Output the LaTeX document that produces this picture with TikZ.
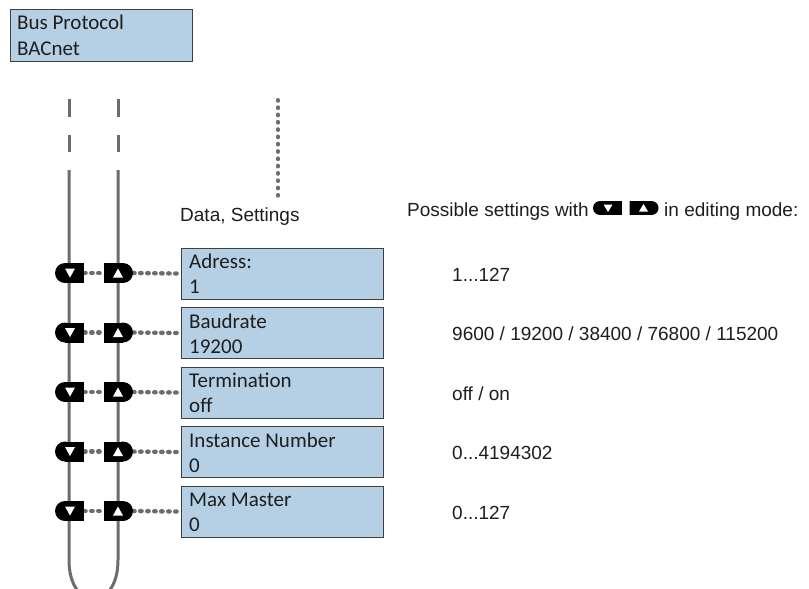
\documentclass[tikz,border=0pt]{standalone}
\usepackage{fontspec}
\setmainfont{Liberation Sans}
\newfontfamily\calfont{Carlito}
\usetikzlibrary{backgrounds}
\definecolor{linegray}{RGB}{108,108,108}
\definecolor{boxfill}{RGB}{181,207,228}
\definecolor{boxborder}{RGB}{64,64,64}
\definecolor{txt}{RGB}{30,30,30}
\begin{document}
\begin{tikzpicture}[x=1pt,y=-1pt,
  vline/.style={draw=linegray,line width=3pt},
  dotline/.style={draw=linegray,line width=4.4pt,line cap=round,dash pattern=on 1.4pt off 5.6pt},
  setbox/.style={draw=boxborder,line width=1.2pt,fill=boxfill,minimum width=202pt,minimum height=51pt,inner sep=0pt,anchor=north west},
  btxt/.style={anchor=base west,inner sep=0pt,text=txt,font=\calfont\fontsize{21}{25}\selectfont},
  atxt/.style={anchor=base west,inner sep=0pt,text=txt,font=\fontsize{19}{23}\selectfont},
  btnbase/.style={rectangle,inner sep=0pt,minimum width=29pt},
  dnbtn/.style={btnbase,minimum height=20pt,
    path picture={\begin{scope}[x=1pt,y=-1pt,shift={(path picture bounding box.center)}]
      \fill[black] (-4.5,0) circle[radius=10pt];
      \fill[black] (-4.5,-10) rectangle (14.6,10);
      \fill[white] (-4.5,-4.5) -- (5.5,-4.5) -- (0.5,4.5) -- cycle;
    \end{scope}}},
  upbtn/.style={btnbase,minimum height=20pt,
    path picture={\begin{scope}[x=1pt,y=-1pt,shift={(path picture bounding box.center)}]
      \fill[black] (4.5,0) circle[radius=10pt];
      \fill[black] (-14.6,-10) rectangle (4.5,10);
      \fill[white] (-5.5,4.5) -- (4.5,4.5) -- (-0.5,-4.5) -- cycle;
    \end{scope}}},
  dnicon/.style={btnbase,minimum height=14pt,
    path picture={\begin{scope}[x=1pt,y=-1pt,shift={(path picture bounding box.center)}]
      \fill[black] (-7.5,0) circle[radius=7pt];
      \fill[black] (-7.5,-7) rectangle (14.6,7);
      \fill[white] (-4,-3.5) -- (5,-3.5) -- (0.5,4) -- cycle;
    \end{scope}}},
  upicon/.style={btnbase,minimum height=14pt,
    path picture={\begin{scope}[x=1pt,y=-1pt,shift={(path picture bounding box.center)}]
      \fill[black] (7.5,0) circle[radius=7pt];
      \fill[black] (-14.6,-7) rectangle (7.5,7);
      \fill[white] (-5,3.5) -- (4,3.5) -- (-0.5,-4) -- cycle;
    \end{scope}}}
]
\useasboundingbox (0,0) rectangle (809,589);
\begin{scope}
\clip (0,0) rectangle (809,589);

% top box
\node[setbox,minimum width=182pt,minimum height=52pt] (top) at (10,9) {};
\node[btxt] (toptxt1) at (17,30) {Bus Protocol};
\node[btxt] (toptxt2) at (17,55) {BACnet};

% heading texts
\node[atxt] (data) at (180,221) {Data, Settings};
\node[atxt] (poss) at (407,216) {Possible settings with};
\node[dnicon] (idn) at (607.5,208) {};
\node[upicon] (iup) at (644,208) {};
\node[atxt] (mode) at (664,216) {in editing mode:};

% rows
\newcommand\myrow[5]{%
  \node[dnbtn] (d#1) at (69.5,#2) {};
  \node[upbtn] (u#1) at (118.5,#2) {};
  \node[setbox] (b#1) at (181,#2-25.5) {};
  \node[btxt] (bl#1) at (189,#2-4.5) {#3};
  \node[btxt] (bv#1) at (189,#2+20.5) {#4};
  \node[atxt] (r#1) at (452,#2+8) {#5};
  \begin{scope}[on background layer]
    \draw[dotline] (d#1.east) -- (u#1.west);
    \draw[dotline] (u#1.east) -- (b#1.west);
  \end{scope}
}
\myrow{1}{273}{Adress:}{1}{1...127}
\myrow{2}{332.5}{Baudrate}{19200}{9600 / 19200 / 38400 / 76800 / 115200}
\myrow{3}{392}{Termination}{off}{off / on}
\myrow{4}{451.5}{Instance Number}{0}{0...4194302}
\myrow{5}{511}{Max Master}{0}{0...127}

\begin{scope}[on background layer]
  \draw[vline] (69,99) -- (69,117);
  \draw[vline] (69,135) -- (69,152);
  \draw[vline] (118,99) -- (118,117);
  \draw[vline] (118,135) -- (118,152);
  \draw[vline] (69,170) -- (69,560) .. controls (69,612) and (118,612) .. (118,560) -- (118,170);
  \draw[dotline,line width=4pt,dash pattern=on 0.8pt off 6.5pt] (278,100) -- (278,196);
\end{scope}
\end{scope}
\end{tikzpicture}
\end{document}
